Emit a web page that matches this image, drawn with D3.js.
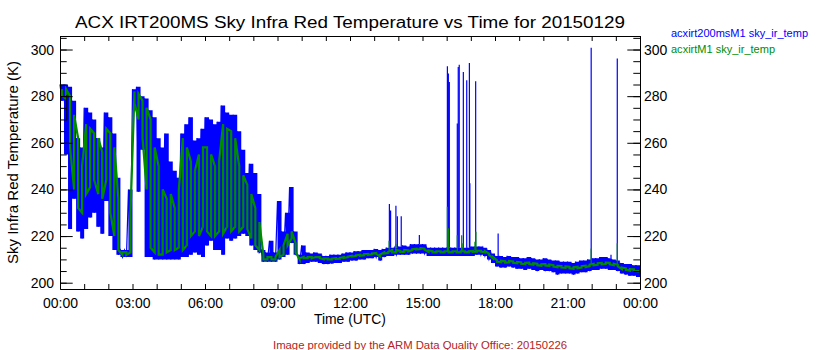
<!DOCTYPE html>
<html>
<head>
<meta charset="utf-8">
<script src="https://cdn.jsdelivr.net/npm/d3@7"></script>
<style>
  body { margin: 0; background: #fff; }
  svg text { font-family: "Liberation Sans", Arial, sans-serif; }
</style>
</head>
<body>
<svg id="chart" width="840" height="350"></svg>
<script>
// Sky IR temperature (K), summarised in 10-minute bins from 00:00 UTC.
// Each bin keeps the high and low reading seen in that bin.
const binHours = 1 / 6;

const blueHi = [
  285, 285, 284, 278, 262, 258, 275, 273, 270, 262, 258, 273, 271, 264, 245, 214, 214, 240,
  283, 284, 280, 279, 274, 271, 262, 258, 264, 252, 248, 245, 264, 268, 271, 261, 262, 266,
  271, 270, 268, 269, 276, 273, 272, 272, 265, 257, 247, 251, 247, 238, 214, 213, 218, 213,
  235, 222, 230, 241, 222, 212, 216, 213, 212.5, 213, 212.5, 211.5, 211.5, 212, 212, 212, 212.5, 213,
  213, 213.5, 213.5, 214, 214, 214, 214.5, 214, 214.5, 215, 215, 215, 215.5, 216, 215.5, 216.5, 216.5, 216.5,
  216.5, 215, 215, 215, 215, 215, 215, 215, 215, 215, 215, 215, 215.5, 215.5, 215.5, 215, 214, 212.5,
  211.5, 211.5, 211, 211.5, 211, 211, 210.5, 210.5, 211, 210.5, 210, 210, 210.5, 210, 209.5, 209.5, 209, 209,
  209, 208.5, 209, 209.5, 209.5, 210, 210.5, 210.5, 211, 211, 210.5, 210, 209.5, 208.5, 208, 208, 207.5, 207.5
];
const blueLo = [
  278, 255, 223, 236, 222, 219, 223, 228, 230, 224, 221, 235, 220, 214, 212, 211, 211, 211,
  274, 239, 257, 211, 211, 210, 210, 210, 210, 210, 210, 210, 211, 211, 212, 213, 212, 211,
  216, 218, 214, 214, 212, 219, 218, 219, 220, 221, 220, 216, 214, 213, 209, 209, 209, 209,
  210, 211, 212, 217, 212, 208, 208, 208.5, 209, 209, 208.5, 208, 208, 208.2, 208.5, 208.5, 209, 209,
  209.5, 209.5, 210, 210, 210.5, 210.5, 211, 209.5, 211, 211.5, 211.5, 212, 212, 212, 212, 212.5, 212.5, 212.5,
  212.5, 211.5, 211.5, 211.5, 211.5, 211.5, 211.5, 211.5, 211.5, 211.5, 211.5, 211.5, 211.5, 212, 212, 211.5, 210, 208.5,
  207, 206.5, 206.5, 207, 206.5, 206, 206, 205.5, 206, 205.5, 205, 205.5, 205, 205, 204.5, 203.5, 204, 204,
  204, 203.5, 204, 204.5, 204.5, 205, 205.5, 205.5, 206, 206, 205.5, 205.5, 205, 204, 203.5, 203, 203, 202.5
];
const greenHi = [
  283, 283, 280, 272, 262, 250, 268, 266, 264, 262, 256, 266, 264, 258, 236, 213, 213, 230,
  282, 281, 278, 275, 270, 258, 250, 240, 236, 238, 232, 240, 262, 258, 252, 248, 255, 258,
  258, 255, 250, 252, 268, 266, 265, 262, 250, 246, 242, 238, 232, 226, 212, 211, 211, 211,
  214, 216, 221, 222, 217, 210.5, 211, 211, 211, 211, 211, 210.3, 210.3, 210.3, 210.5, 210.6, 211, 211.2,
  211.5, 211.7, 212, 212.2, 212.3, 212.5, 212.7, 212, 213, 213.2, 214, 214, 213.6, 214, 213.8, 214.4, 214.6, 214.8,
  214.6, 213.8, 213.5, 213.5, 213.5, 213.5, 213.5, 213.5, 213.5, 213.5, 213.5, 213.5, 213.6, 213.7, 213.7, 213.5, 212.5, 211,
  209.6, 209.4, 209.2, 209.3, 209.1, 208.9, 208.7, 208.5, 208.6, 208.3, 208.1, 207.9, 208, 207.8, 207.5, 207.2, 207.1, 207,
  206.8, 206.6, 206.8, 207.1, 207.3, 207.7, 208.1, 208.3, 208.5, 208.6, 208.5, 208.1, 207.6, 206.5, 206.1, 205.8, 205.7, 205.5
];
const greenLo = [
  280, 279, 258, 240, 232, 230, 238, 241, 244, 238, 236, 244, 230, 220, 214, 212, 212, 213,
  277, 270, 262, 240, 215, 213, 212, 212, 213, 214, 214, 215, 214, 216, 220, 222, 220, 224,
  222, 220, 220, 222, 221, 224, 222, 224, 222, 224, 223, 219, 216, 214, 210, 210, 210, 210,
  211, 212, 216, 219, 213, 210, 210.5, 210.5, 210.5, 211, 210.5, 210, 210, 210, 210.2, 210.3, 210.6, 211,
  211.2, 211.4, 211.6, 211.8, 212, 212.2, 212.4, 211.2, 212.5, 212.8, 213, 213, 213.2, 213.2, 213.4, 214, 214.2, 214.4,
  214.2, 213.2, 213, 213, 213, 213, 213, 213, 213, 213, 213, 213, 213.2, 213.3, 213.3, 213, 212, 210.5,
  209, 208.8, 208.6, 208.7, 208.5, 208.3, 208.1, 207.9, 208, 207.7, 207.5, 207.3, 207.4, 207.2, 206.9, 206.6, 206.5, 206.4,
  206.2, 206, 206.2, 206.5, 206.7, 207.1, 207.5, 207.7, 207.9, 208, 207.9, 207.5, 207, 205.9, 205.5, 205.2, 205.1, 204.9
];

// Short-lived readings that stand out of the band (hours, K)
const blueSpikeHours = [13.63, 13.68, 13.90, 13.96, 14.12, 14.87, 16.03, 16.07, 16.11, 16.44, 16.48, 16.52,
                        16.69, 16.83, 16.94, 16.96, 17.20, 18.13, 21.98, 22.80, 23.06];
const blueSpikeTops  = [233.7, 231.0, 233.0, 228.5, 228.5, 220.5, 292.8, 289.7, 286.1, 268.3, 292.5, 293.5,
                        290.4, 286.8, 294.2, 242.6, 286.4, 221.1, 300.8, 212.0, 296.1];
const greenSpikeHours = [13.62, 13.90, 16.03, 16.07, 16.44, 16.62, 16.67, 17.17, 17.21, 21.98, 23.06];
const greenSpikeTops  = [218.0, 216.5, 232.6, 223.3, 220.4, 220.4, 216.9, 217.6, 221.9, 214.7, 216.9];

// Third trace: a single short segment near the start of the day
const blackHours = [0.28, 0.28];
const blackVals  = [280.4, 269.7];

const xTickHours  = [0, 3, 6, 9, 12, 15, 18, 21, 24];
const xTickLabels = ["00:00", "03:00", "06:00", "09:00", "12:00", "15:00", "18:00", "21:00", "00:00"];
const yMajorTicks = [200, 220, 240, 260, 280, 300];
const yMinorTicks = d3.range(200, 306, 5);

const seriesNames = ["acxirt200msM1 sky_ir_temp", "acxirtM1 sky_ir_temp"];
const blueColor = "#0000ff", greenColor = "#008c00";

const svg = d3.select("#chart");
const x = d3.scaleLinear().domain([0, 24]).range([60, 640]);
const y = d3.scaleLinear().domain([197.3, 305.8]).range([289, 36]);

// Per-bin records, with a closing record at the end of the day
function binRecords(hi, lo) {
  const recs = hi.map((h, i) => ({ t: i * binHours, hi: h, lo: lo[i] }));
  const last = recs[recs.length - 1];
  recs.push({ t: hi.length * binHours, hi: last.hi, lo: last.lo });
  return recs;
}
// Each bin's high reading followed by its low reading
function binPoints(hi, lo) {
  const pts = [];
  hi.forEach((h, i) => {
    const t = i * binHours;
    pts.push([t, h]);
    pts.push([t + binHours / 2, lo[i]]);
  });
  return pts;
}
// One vertical stroke per bin, alternating direction so the path snakes along
function serpentine(hi, lo) {
  const pts = [];
  hi.forEach((h, i) => {
    const t = (i + 0.5) * binHours;
    if (i % 2 === 0) { pts.push([t, h]); pts.push([t, lo[i]]); }
    else { pts.push([t, lo[i]]); pts.push([t, h]); }
  });
  return pts;
}
const line = d3.line().x(d => x(d[0])).y(d => y(d[1]));
const band = d3.area()
  .x(d => x(d.t)).y0(d => y(d.lo)).y1(d => y(d.hi))
  .curve(d3.curveStepAfter);

function drawSpikes(hi, spikeHours, spikeTops, color) {
  svg.append("g").selectAll("line")
    .data(spikeHours.map((t, i) => ({ t, top: spikeTops[i], base: hi[Math.min(hi.length - 1, Math.floor(t / binHours))] })))
    .join("line")
    .attr("x1", d => x(d.t)).attr("x2", d => x(d.t))
    .attr("y1", d => y(d.base)).attr("y2", d => y(d.top))
    .attr("stroke", color)
    .attr("stroke-width", 1.2);
}

// 200 ms instrument: filled envelope with its trace on top
svg.append("path")
  .datum(binRecords(blueHi, blueLo))
  .attr("fill", blueColor).attr("stroke", "none")
  .attr("d", band);
svg.append("path")
  .datum(binPoints(blueHi, blueLo))
  .attr("fill", "none").attr("stroke", blueColor).attr("stroke-width", 1.2)
  .attr("d", line);
drawSpikes(blueHi, blueSpikeHours, blueSpikeTops, blueColor);

// Standard instrument trace
svg.append("path")
  .datum(serpentine(greenHi, greenLo))
  .attr("fill", "none").attr("stroke", greenColor).attr("stroke-width", 2.2)
  .attr("d", line);
drawSpikes(greenHi, greenSpikeHours, greenSpikeTops, greenColor);

svg.append("path")
  .datum(blackHours.map((t, i) => [t, blackVals[i]]))
  .attr("fill", "none").attr("stroke", "#000").attr("stroke-width", 1)
  .attr("d", line);

// Axes: ticks point inward on all four sides
function styleAxis(g) {
  g.selectAll("path, line").attr("stroke", "#000").attr("stroke-width", 1);
  g.selectAll("text").attr("fill", "#000").attr("font-size", 14);
}
const plotTop = y.range()[1], plotBottom = y.range()[0];
const plotLeft = x.range()[0], plotRight = x.range()[1];

svg.append("g").attr("transform", `translate(${plotLeft},0)`)
  .call(d3.axisLeft(y).tickValues(yMinorTicks).tickSizeInner(-6.7).tickSizeOuter(0).tickFormat(""))
  .call(styleAxis);
svg.append("g").attr("transform", `translate(${plotLeft},0)`)
  .call(d3.axisLeft(y).tickValues(yMajorTicks).tickSizeInner(-12.7).tickSizeOuter(0).tickPadding(6).tickFormat(d3.format("d")))
  .call(styleAxis);
svg.append("g").attr("transform", `translate(${plotRight},0)`)
  .call(d3.axisRight(y).tickValues(yMinorTicks).tickSizeInner(-6.7).tickSizeOuter(0).tickFormat(""))
  .call(styleAxis);
svg.append("g").attr("transform", `translate(${plotRight},0)`)
  .call(d3.axisRight(y).tickValues(yMajorTicks).tickSizeInner(-12.7).tickSizeOuter(0).tickPadding(4).tickFormat(d3.format("d")))
  .call(styleAxis);

const hourTicks = d3.range(0, 25, 1);
svg.append("g").attr("transform", `translate(0,${plotBottom})`)
  .call(d3.axisBottom(x).tickValues(hourTicks).tickSizeInner(-5).tickSizeOuter(0).tickPadding(9)
    .tickFormat(h => { const k = xTickHours.indexOf(h); return k >= 0 ? xTickLabels[k] : ""; }))
  .call(styleAxis);
svg.append("g").attr("transform", `translate(0,${plotTop})`)
  .call(d3.axisTop(x).tickValues(hourTicks).tickSizeInner(-5).tickSizeOuter(0).tickFormat(""))
  .call(styleAxis);

// Titles
svg.append("text")
  .attr("x", 350).attr("y", 28)
  .attr("text-anchor", "middle")
  .attr("font-size", 16)
  .attr("textLength", 550).attr("lengthAdjust", "spacingAndGlyphs")
  .text("ACX IRT200MS Sky Infra Red Temperature vs Time for 20150129");

svg.append("text")
  .attr("x", (plotLeft + plotRight) / 2).attr("y", 324)
  .attr("text-anchor", "middle")
  .attr("font-size", 15)
  .attr("textLength", 72).attr("lengthAdjust", "spacingAndGlyphs")
  .text("Time (UTC)");

svg.append("text")
  .attr("transform", `translate(18,${(plotTop + plotBottom) / 2}) rotate(-90)`)
  .attr("text-anchor", "middle")
  .attr("font-size", 14)
  .attr("textLength", 203).attr("lengthAdjust", "spacingAndGlyphs")
  .text("Sky Infra Red Temperature (K)");

// Legend
svg.append("text").attr("x", 671).attr("y", 37)
  .attr("font-size", 10).attr("fill", blueColor)
  .attr("textLength", 137).attr("lengthAdjust", "spacingAndGlyphs")
  .text(seriesNames[0]);
svg.append("text").attr("x", 671).attr("y", 53)
  .attr("font-size", 10).attr("fill", greenColor)
  .attr("textLength", 104).attr("lengthAdjust", "spacingAndGlyphs")
  .text(seriesNames[1]);

// Footer
svg.append("text")
  .attr("x", 420).attr("y", 349)
  .attr("text-anchor", "middle")
  .attr("font-size", 11).attr("fill", "#b4231e")
  .attr("textLength", 294).attr("lengthAdjust", "spacingAndGlyphs")
  .text("Image provided by the ARM Data Quality Office: 20150226");
</script>
</body>
</html>
